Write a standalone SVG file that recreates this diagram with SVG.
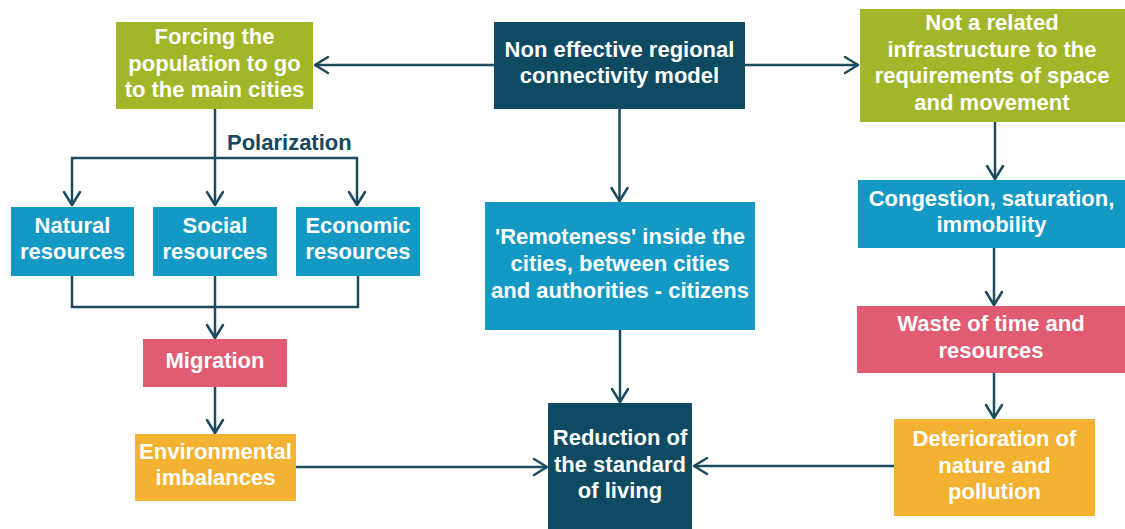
<svg xmlns="http://www.w3.org/2000/svg" width="1125" height="529" viewBox="0 0 1125 529">
  <style>
    .box text, .lbl { font-family: "Liberation Sans", Arial, sans-serif; font-weight: bold; font-size: 22px; text-anchor: middle; fill: #ffffff; }
    .lbl { fill: #17475d; text-anchor: start; }
    .navy { fill: #0f4a63; }
    .blue { fill: #1399c4; }
    .olive { fill: #a3b62a; }
    .pink { fill: #e15b73; }
    .gold { fill: #f3b232; }
    .wire { fill: none; stroke: #1d4b5e; stroke-width: 2.5; }
    .arrow { marker-end: url(#chev); }
  </style>
  <defs>
    <marker id="chev" markerUnits="userSpaceOnUse" markerWidth="20" markerHeight="20" viewBox="-16 -10 20 20" refX="0" refY="0" orient="auto" overflow="visible">
      <path d="M -13 -8 L 0 0 L -13 8" fill="none" stroke="#1d4b5e" stroke-width="2.5" stroke-linecap="round" stroke-linejoin="round"/>
    </marker>
  </defs>
  <rect width="1125" height="529" fill="#ffffff"/>

  <!-- connectors -->
  <g id="connectors">
    <line class="wire arrow" x1="494" y1="65" x2="315" y2="65"/>
    <line class="wire arrow" x1="745" y1="65" x2="858" y2="65"/>
    <line class="wire arrow" x1="619.5" y1="109" x2="619.5" y2="201"/>
    <!-- polarization split -->
    <line class="wire arrow" x1="215" y1="109" x2="215" y2="205"/>
    <polyline class="wire arrow" points="215,158 72,158 72,205"/>
    <polyline class="wire arrow" points="215,158 357,158 357,205"/>
    <!-- resources merge into migration -->
    <polyline class="wire" points="72,276 72,307 358,307 358,276"/>
    <line class="wire arrow" x1="215" y1="276" x2="215" y2="338"/>
    <line class="wire arrow" x1="215" y1="387" x2="215" y2="433"/>
    <line class="wire arrow" x1="296" y1="467" x2="547" y2="467"/>
    <line class="wire arrow" x1="620" y1="330" x2="620" y2="402"/>
    <line class="wire arrow" x1="894" y1="466" x2="694" y2="466"/>
    <line class="wire arrow" x1="995" y1="122" x2="995" y2="179"/>
    <line class="wire arrow" x1="994" y1="248" x2="994" y2="305"/>
    <line class="wire arrow" x1="994" y1="373" x2="994" y2="418"/>
  </g>
  <text class="lbl" x="227" y="150">Polarization</text>

  <g id="non-effective" class="box">
    <rect class="navy" x="494" y="22" width="251" height="87"/>
    <text x="619.5" y="57">Non effective regional</text>
    <text x="619.5" y="83">connectivity model</text>
  </g>

  <g id="forcing" class="box">
    <rect class="olive" x="116" y="22" width="197" height="87"/>
    <text x="214.5" y="44">Forcing the</text>
    <text x="214.5" y="71">population to go</text>
    <text x="214.5" y="97">to the main cities</text>
  </g>

  <g id="not-related" class="box">
    <rect class="olive" x="860" y="9" width="265" height="113"/>
    <text x="992" y="30">Not a related</text>
    <text x="992" y="57">infrastructure to the</text>
    <text x="992" y="83">requirements of space</text>
    <text x="992" y="110">and movement</text>
  </g>

  <g id="natural" class="box">
    <rect class="blue" x="11" y="207" width="123" height="69"/>
    <text x="72.5" y="233">Natural</text>
    <text x="72.5" y="259">resources</text>
  </g>

  <g id="social" class="box">
    <rect class="blue" x="153" y="207" width="124" height="69"/>
    <text x="215" y="233">Social</text>
    <text x="215" y="259">resources</text>
  </g>

  <g id="economic" class="box">
    <rect class="blue" x="296" y="207" width="124" height="69"/>
    <text x="358" y="233">Economic</text>
    <text x="358" y="259">resources</text>
  </g>

  <g id="migration" class="box">
    <rect class="pink" x="143" y="339" width="144" height="48"/>
    <text x="215" y="367.5">Migration</text>
  </g>

  <g id="environmental" class="box">
    <rect class="gold" x="135" y="434" width="161" height="67"/>
    <text x="215.5" y="458.5">Environmental</text>
    <text x="215.5" y="485">imbalances</text>
  </g>

  <g id="remoteness" class="box">
    <rect class="blue" x="485" y="202" width="270" height="128"/>
    <text x="620" y="244">'Remoteness' inside the</text>
    <text x="620" y="271">cities, between cities</text>
    <text x="620" y="297.5">and authorities - citizens</text>
  </g>

  <g id="reduction" class="box">
    <rect class="navy" x="548" y="403" width="144" height="126"/>
    <text x="620" y="445">Reduction of</text>
    <text x="620" y="471.5">the standard</text>
    <text x="620" y="497.5">of living</text>
  </g>

  <g id="congestion" class="box">
    <rect class="blue" x="858" y="180" width="267" height="68"/>
    <text x="991.5" y="205.5">Congestion, saturation,</text>
    <text x="991.5" y="232">immobility</text>
  </g>

  <g id="waste" class="box">
    <rect class="pink" x="857" y="306" width="268" height="67"/>
    <text x="991" y="331">Waste of time and</text>
    <text x="991" y="357.5">resources</text>
  </g>

  <g id="deterioration" class="box">
    <rect class="gold" x="894" y="419" width="201" height="97"/>
    <text x="994.5" y="446">Deterioration of</text>
    <text x="994.5" y="472.5">nature and</text>
    <text x="994.5" y="498.5">pollution</text>
  </g>
</svg>
